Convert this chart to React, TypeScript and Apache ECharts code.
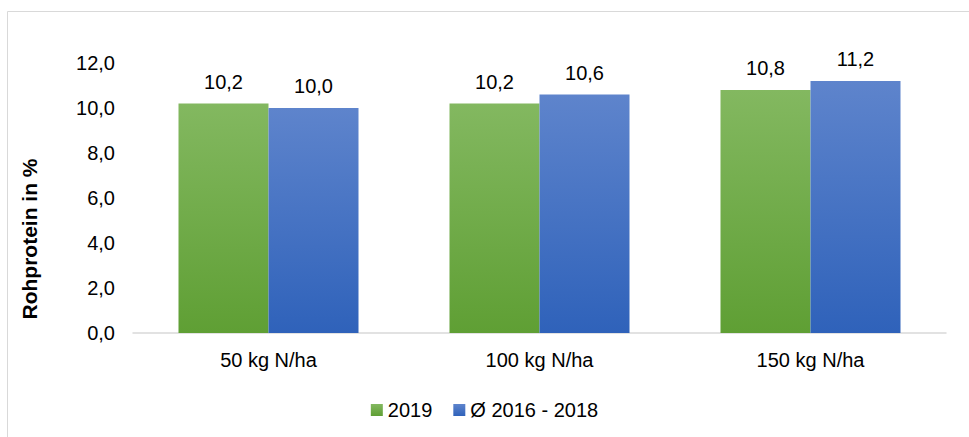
import React, { useEffect, useRef } from "react";
import * as echarts from "echarts";

const categories = ["50 kg N/ha", "100 kg N/ha", "150 kg N/ha"];
const values2019 = [10.2, 10.2, 10.8];
const valuesAvg = [10.0, 10.6, 11.2];
const seriesNames = ["2019", "Ø 2016 - 2018"];
const yTitle = "Rohprotein in %";

const FONT = "'Liberation Sans', Arial, sans-serif";
const FS = 20;
const fmt = (v: number) => v.toFixed(1).replace(".", ",");

const grad = (top: string, bottom: string) =>
  new echarts.graphic.LinearGradient(0, 0, 0, 1, [
    { offset: 0, color: top },
    { offset: 1, color: bottom },
  ]);

const App: React.FC = () => {
  const chartRef = useRef<HTMLDivElement>(null);

  useEffect(() => {
    const dom = chartRef.current;
    if (!dom) return;
    const chart = echarts.init(dom, undefined, { renderer: "svg" });

    const labelStyle = {
      show: true,
      position: "top" as const,
      distance: 12,
      color: "#000",
      fontSize: FS,
      fontFamily: FONT,
      formatter: (p: any) => fmt(p.value),
    };

    const option: echarts.EChartsOption = {
      animation: false,
      backgroundColor: "#fff",
      textStyle: { fontFamily: FONT },
      graphic: [
        {
          type: "rect",
          shape: { x: 7.5, y: 11.5, width: 1000, height: 500 },
          style: { fill: "none", stroke: "#d9d9d9", lineWidth: 1 },
          silent: true,
        },
        {
          // y axis title, placed like in the source (below the grid centre)
          type: "text",
          x: 29,
          y: 239,
          rotation: Math.PI / 2,
          style: {
            text: yTitle,
            fill: "#000",
            font: `bold 21px ${FONT}`,
            align: "center",
            verticalAlign: "middle",
          },
          silent: true,
        },
      ],
      grid: { left: 133, right: 23, top: 63, bottom: 104 },
      legend: {
        data: seriesNames,
        top: 395,
        left: "center",
        itemWidth: 12,
        itemHeight: 12,
        itemGap: 21,
        icon: "rect",
        textStyle: { fontSize: FS, color: "#000", fontFamily: FONT },
      },
      xAxis: {
        type: "category",
        data: categories,
        axisLine: { lineStyle: { color: "#d9d9d9", width: 1.5 } },
        axisTick: { show: false },
        axisLabel: { color: "#000", fontSize: FS, margin: 17, fontFamily: FONT },
      },
      yAxis: {
        type: "value",
        min: 0,
        max: 12,
        interval: 2,
        splitLine: { show: false },
        axisLine: { show: false },
        axisTick: { show: false },
        axisLabel: {
          color: "#000",
          fontSize: FS,
          margin: 18,
          fontFamily: FONT,
          formatter: (v: number) => fmt(v),
        },
      },
      series: [
        {
          name: seriesNames[0],
          type: "bar",
          data: values2019,
          barWidth: 90,
          barGap: "0%",
          itemStyle: { color: grad("#83b860", "#5f9f34") },
          label: labelStyle,
        },
        {
          name: seriesNames[1],
          type: "bar",
          data: valuesAvg,
          barWidth: 90,
          itemStyle: { color: grad("#5e84cc", "#2f62ba") },
          label: labelStyle,
        },
      ],
    };

    chart.setOption(option);
    return () => chart.dispose();
  }, []);

  return (
    <div
      ref={chartRef}
      style={{ position: "absolute", left: 0, top: 0, width: 969, height: 437 }}
    />
  );
};

export default App;
